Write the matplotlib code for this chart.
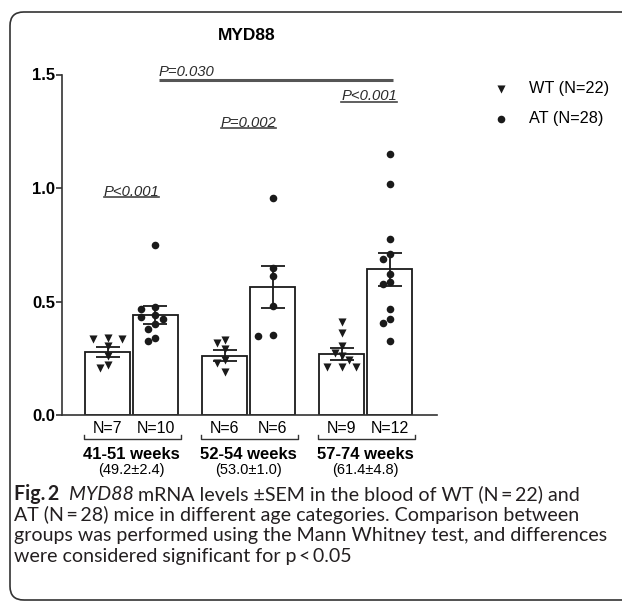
#importing libraries to use
import numpy as np
import matplotlib
matplotlib.use("Agg")
import matplotlib.pyplot as plt
from matplotlib.patches import FancyBboxPatch

# chart values
groups = ['41-51 weeks', '52-54 weeks', '57-74 weeks']
ages = ['(49.2\u00b12.4)', '(53.0\u00b11.0)', '(61.4\u00b14.8)']
wt_n = [7, 6, 9]
at_n = [10, 6, 12]
wt_mean = [0.279, 0.261, 0.269]
wt_sem = [0.022, 0.025, 0.025]
at_mean = [0.441, 0.563, 0.642]
at_sem = [0.038, 0.093, 0.072]
wt_pts = [
    [0.338, 0.333, 0.333, 0.304, 0.260, 0.220, 0.206],
    [0.330, 0.316, 0.289, 0.242, 0.230, 0.191],
    [0.411, 0.360, 0.304, 0.275, 0.260, 0.242, 0.210, 0.210, 0.210],
]
at_pts = [
    [0.750, 0.474, 0.466, 0.439, 0.430, 0.423, 0.402, 0.379, 0.341, 0.327],
    [0.954, 0.646, 0.612, 0.480, 0.352, 0.348],
    [1.150, 1.018, 0.775, 0.709, 0.686, 0.621, 0.587, 0.577, 0.466, 0.423, 0.404, 0.327],
]
p_within = ['P<0.001', 'P=0.002', 'P<0.001']
p_within_y = [0.960, 1.264, 1.380]
p_across = 'P=0.030'
p_across_y = 1.476

caption = [
    'AT (N\u2009=\u200928) mice in different age categories. Comparison between',
    'groups was performed using the Mann Whitney test, and differences',
    'were considered significant for p\u2009<\u20090.05',
]

W, H = 622, 601
plt.rcParams['font.family'] = ['Liberation Sans', 'DejaVu Sans']


def fx(px):
    return px / W


def fy(py):
    return 1 - py / H


fig = plt.figure(figsize=(W / 100, H / 100), dpi=100)
ax = fig.add_axes([fx(62), fy(415), fx(437) - fx(62), fy(74.5) - fy(415)])

pitch = 2.44
wt_x = np.arange(3) * pitch
at_x = wt_x + 1.0
ax.set_xlim(-0.948, 6.865)
ax.set_ylim(0, 1.5)

ink = '#1a1a1a'
ax.bar(wt_x, wt_mean, width=0.94, color='white', edgecolor=ink, linewidth=1.3, zorder=1)
ax.bar(at_x, at_mean, width=0.94, color='white', edgecolor=ink, linewidth=1.3, zorder=1)


# simple swarm so dots of the same height sit side by side
def swarm(x0, vals, step=0.15, min_px=7.5):
    placed = []
    xs = np.zeros(len(vals))
    for i in np.argsort(vals)[::-1]:
        for k in [0, -1, 1, -2, 2, -3, 3]:
            cx = x0 + k * step
            p = ax.transData.transform((cx, vals[i]))
            if all(np.hypot(*(p - q)) >= min_px for q in placed):
                break
        placed.append(p)
        xs[i] = cx
    return xs


for i in range(3):
    h_wt = ax.scatter(swarm(wt_x[i], wt_pts[i]), wt_pts[i], marker='v', s=34,
                      color=ink, linewidths=0, zorder=3, label='WT (N=22)')
    h_at = ax.scatter(swarm(at_x[i], at_pts[i]), at_pts[i], marker='o', s=30,
                      color=ink, linewidths=0, zorder=3, label='AT (N=28)')

ax.errorbar(wt_x, wt_mean, yerr=wt_sem, fmt='none', ecolor=ink, elinewidth=1.3,
            capsize=8.5, capthick=1.3, zorder=4)
ax.errorbar(at_x, at_mean, yerr=at_sem, fmt='none', ecolor=ink, elinewidth=1.3,
            capsize=8.5, capthick=1.3, zorder=4)

# axes styling
for side in ['top', 'right']:
    ax.spines[side].set_visible(False)
for side in ['left', 'bottom']:
    ax.spines[side].set_color('#333333')
    ax.spines[side].set_linewidth(1.2)
ax.set_xticks([])
ax.set_yticks([0.0, 0.5, 1.0, 1.5])
ax.set_yticklabels(['0.0', '0.5', '1.0', '1.5'], fontweight='bold', fontsize=12)
ax.tick_params(axis='y', length=4, width=1.2, pad=1, color='#333333')

# labels below the axis
xt = ax.get_xaxis_transform()
for i in range(3):
    ax.text(wt_x[i], -0.041, 'N=%d' % wt_n[i], transform=xt, ha='center', va='center', fontsize=11.5)
    ax.text(at_x[i], -0.041, 'N=%d' % at_n[i], transform=xt, ha='center', va='center', fontsize=11.5)
    x1, x2 = wt_x[i] - 0.5, at_x[i] + 0.53
    ax.plot([x1, x1, x2, x2], [-0.060, -0.071, -0.071, -0.060], transform=xt,
            color='#333333', lw=1.0, clip_on=False)
    mid = (wt_x[i] + at_x[i]) / 2
    ax.text(mid, -0.117, groups[i], transform=xt, ha='center', va='center',
            fontsize=12, fontweight='bold')
    ax.text(mid, -0.161, ages[i], transform=xt, ha='center', va='center', fontsize=10.5)

# p values
p_texts = []
for i in range(3):
    mid = (wt_x[i] + at_x[i]) / 2 + (0.07 if i == 2 else 0)
    t = ax.text(mid, p_within_y[i] + 0.024, p_within[i], ha='center', va='center',
                style='italic', fontsize=10.7, color='#2b2b2b')
    p_texts.append((t, p_within_y[i]))
ax.text(at_x[0] + 0.07, p_across_y + 0.036, p_across, ha='left', va='center',
        style='italic', fontsize=10.7, color='#2b2b2b')
ax.plot([at_x[0] + 0.07, at_x[2] + 0.06], [p_across_y, p_across_y],
        color='#555555', lw=2.2, clip_on=False, solid_capstyle='butt')

fig.canvas.draw()
inv = ax.transData.inverted()
for t, yy in p_texts:
    bb = t.get_window_extent()
    xa = inv.transform((bb.x0, 0))[0]
    xb = inv.transform((bb.x1, 0))[0]
    ax.plot([xa, xb], [yy, yy], color='#444444', lw=1.2, clip_on=False)

# title and legend
fig.text(fx(246.7), fy(35.7), 'MYD88', ha='center', va='center', fontsize=12.5, fontweight='bold')
fig.legend(handles=[h_wt, h_at], loc='upper left', bbox_to_anchor=(fx(485), fy(73)),
           frameon=False, fontsize=11.7, handlelength=1.0, handletextpad=1.2,
           labelspacing=0.92, borderpad=0)

# figure caption
cap_font = ['Lato', 'DejaVu Sans']
cap_col = '#231f20'
probe = fig.text(fx(14), fy(541.5), caption[1], fontsize=12, family=cap_font, color=cap_col, va='baseline')
fig.canvas.draw()
cap_size = 12 * 592 / probe.get_window_extent().width
probe.set_fontsize(cap_size)
fig.text(fx(14), fy(521), caption[0], fontsize=cap_size, family=cap_font, color=cap_col, va='baseline')
fig.text(fx(14), fy(562), caption[2], fontsize=cap_size, family=cap_font, color=cap_col, va='baseline')

pieces = [('Fig.\u20092', 'bold', 'normal', '  '), ('MYD88', 'normal', 'italic', ' '),
          ('mRNA levels \u00b1SEM in the blood of WT (N\u2009=\u200922) and', 'normal', 'normal', '')]
xpos = 14
r = fig.canvas.get_renderer()
for s, wgt, sty, gap in pieces:
    t = fig.text(fx(xpos), fy(500.5), s + gap, fontsize=cap_size, family=cap_font,
                 fontweight=wgt, style=sty, color=cap_col, va='baseline')
    xpos += t.get_window_extent(renderer=r).width

# rounded frame round the figure
frame = FancyBboxPatch((fx(10), fy(600)), fx(650) - fx(10), fy(12) - fy(600),
                       boxstyle='round,pad=0,rounding_size=0.022', transform=fig.transFigure,
                       facecolor='none', edgecolor='#333333', linewidth=1.2,
                       mutation_aspect=W / H, clip_on=False)
fig.add_artist(frame)

fig.savefig('out.png', dpi=100)
